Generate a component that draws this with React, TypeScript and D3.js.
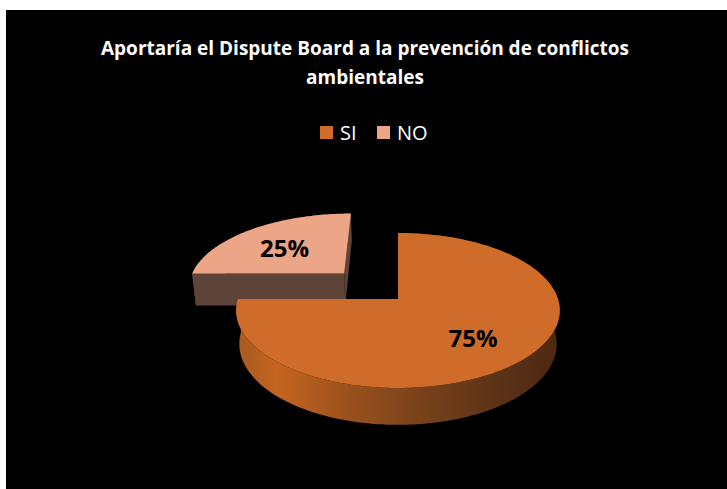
import React from 'react';
import * as d3 from 'd3';

const categories = ['SI', 'NO'];
const values = [75, 25];
const labels = ['75%', '25%'];
const explode = [0, 0.5];
const topColors = ['#D06C2A', '#EDA587'];
const cutColors = ['#5A3216', '#5E4339'];
const titleLines = ['Aportaría el Dispute Board a la prevención de conflictos', 'ambientales'];

const W = 727;
const H = 489;

// 3d perspective of the pie plane (radius = 1)
const cx = 398, cy = 299;
const F = 952, D = 5.95;
const sinP = 0.4736, cosP = 0.881;
const depth = 0.24;

function proj(u: number, v: number, h: number): [number, number] {
  const d = D - v * cosP - h * sinP;
  return [cx + (F * u) / d, cy + (F * (v * sinP - h * cosP)) / d];
}

function rim(a0: number, a1: number, ou: number, ov: number, h: number) {
  const n = Math.max(2, Math.ceil(Math.abs(a1 - a0) / 0.02));
  return d3.range(n + 1).map(i => {
    const a = a0 + ((a1 - a0) * i) / n;
    return proj(ou + Math.sin(a), ov - Math.cos(a), h);
  });
}

const line = d3.line();

export default function App() {
  const pie = d3.pie<number>().sort(null)(values);

  const slices = pie.map((p, i) => {
    const mid = (p.startAngle + p.endAngle) / 2;
    const ou = explode[i] * Math.sin(mid);
    const ov = -explode[i] * Math.cos(mid);
    const apexT = proj(ou, ov, 0);
    const apexB = proj(ou, ov, -depth);
    const topPts = [apexT, ...rim(p.startAngle, p.endAngle, ou, ov, 0)];
    const sidePts = [
      ...rim(p.startAngle, p.endAngle, ou, ov, 0),
      ...rim(p.endAngle, p.startAngle, ou, ov, -depth),
    ];
    const cut = (a: number) => [
      apexT,
      proj(ou + Math.sin(a), ov - Math.cos(a), 0),
      proj(ou + Math.sin(a), ov - Math.cos(a), -depth),
      apexB,
    ];
    const lp = proj(ou + 0.62 * Math.sin(mid), ov - 0.62 * Math.cos(mid), 0);
    return {
      i,
      top: line(topPts as [number, number][]) + 'Z',
      side: line(sidePts as [number, number][]) + 'Z',
      cutA: line(cut(p.startAngle) as [number, number][]) + 'Z',
      cutB: line(cut(p.endAngle) as [number, number][]) + 'Z',
      label: lp,
    };
  });

  // back slice first
  const order = [1, 0];

  return (
    <svg width={W} height={H} style={{ position: 'absolute', left: 0, top: 0 }}>
      <defs>
        <linearGradient id="sideSI" gradientUnits="userSpaceOnUse" x1={238} x2={560} y1={0} y2={0}>
          <stop offset="0" stopColor="#A65A22" />
          <stop offset="0.12" stopColor="#C4651F" />
          <stop offset="0.35" stopColor="#99501D" />
          <stop offset="0.6" stopColor="#74401A" />
          <stop offset="0.85" stopColor="#573016" />
          <stop offset="1" stopColor="#4C2912" />
        </linearGradient>
      </defs>
      <rect x={0} y={0} width={W} height={H} fill="#fff" />
      <rect x={6} y={10} width={W - 6} height={H - 10} fill="#000" />
      <text
        x={365}
        textAnchor="middle"
        fill="#fff"
        fontFamily="'Open Sans', sans-serif"
        fontWeight="bold"
        fontSize={19}
      >
        <tspan x={365} y={55}>{titleLines[0]}</tspan>
        <tspan x={365} y={84}>{titleLines[1]}</tspan>
      </text>
      <g fontFamily="'Open Sans', sans-serif" fontSize={20} fill="#fff">
        {categories.map((c, i) => (
          <g key={c} transform={`translate(${320 + i * 57},126)`}>
            <rect width={13} height={13} fill={topColors[i]} />
            <text x={20} y={14}>{c}</text>
          </g>
        ))}
      </g>
      {order.map(i => {
        const s = slices[i];
        return (
          <g key={i}>
            <path d={s.cutB} fill={cutColors[i]} />
            <path d={s.cutA} fill={cutColors[i]} />
            <path d={s.side} fill={i === 0 ? 'url(#sideSI)' : cutColors[i]} />
            <path d={s.top} fill={topColors[i]} />
          </g>
        );
      })}
      {slices.map(s => (
        <text
          key={s.i}
          x={s.label[0]}
          y={s.label[1]}
          dy={12}
          textAnchor="middle"
          fontFamily="'Open Sans', sans-serif"
          fontWeight="bold"
          fontSize={24}
          fill="#000"
        >
          {labels[s.i]}
        </text>
      ))}
    </svg>
  );
}
